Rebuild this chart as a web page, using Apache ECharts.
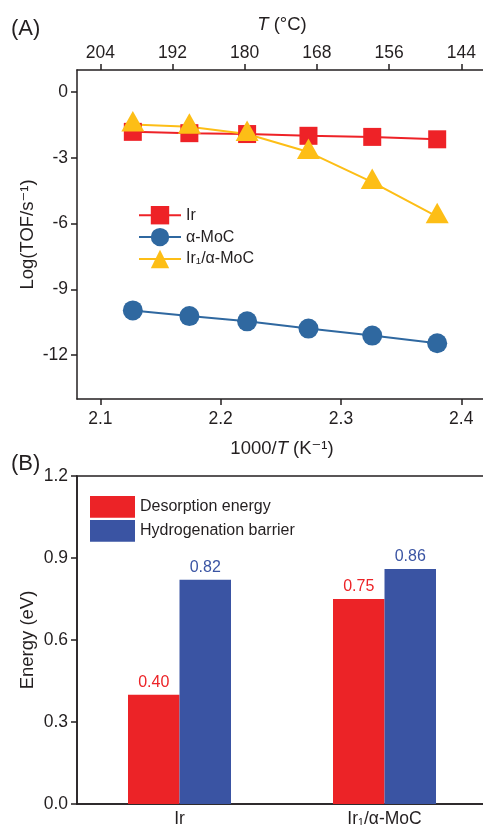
<!DOCTYPE html>
<html>
<head>
<meta charset="utf-8">
<script src="https://cdn.jsdelivr.net/npm/echarts@6/dist/echarts.min.js"></script>
<style>
  html, body { margin: 0; padding: 0; background: #fff; }
  #chart { width: 483px; height: 825px; }
</style>
</head>
<body>
<div id="chart"></div>
<script>
// panel A: Arrhenius data
var invT = [2.127, 2.174, 2.222, 2.273, 2.326, 2.380]
var irTOF = [-1.82, -1.88, -1.92, -2.0, -2.05, -2.16]
var mocTOF = [-9.96, -10.22, -10.46, -10.79, -11.11, -11.46]
var ir1TOF = [-1.49, -1.59, -1.92, -2.74, -4.11, -5.68]
var invTTicks = [2.1, 2.2, 2.3, 2.4]
var tempTicks = [144, 156, 168, 180, 192, 204]
var logTicks = [-12, -9, -6, -3, 0]

// panel B: energies
var catalysts = ['Ir', 'Ir₁/α-MoC']
var desorption = [0.40, 0.75]
var barrier = [0.82, 0.86]

var ink = '#231f20'
var font = 'Liberation Sans, Arial, DejaVu Sans, sans-serif'
var colors = {
  ir: '#ee2227',
  moc: '#2f68a0',
  ir1: '#fdbe16',
  barRed: '#ec2327',
  barBlue: '#3a54a3'
}

function pairs(xs, ys) {
  return xs.map(function (x, i) { return [x, ys[i]] })
}

var axisLine = { show: true, onZero: false, lineStyle: { color: ink, width: 1.5 } }
var tickStyle = { color: ink, width: 1.5 }
var labelStyle = { color: ink, fontSize: 17.5, fontFamily: font }
var nameStyle = {
  color: ink, fontSize: 18.5, fontFamily: font,
  rich: { i: { fontStyle: 'italic', fontSize: 18.5, fontFamily: font, color: ink } }
}

var chart = echarts.init(document.getElementById('chart'))
chart.setOption({
  animation: false,
  textStyle: { fontFamily: font },
  title: [
    { text: '(A)', left: 11, top: 18, padding: 0, textStyle: { fontSize: 22, fontWeight: 'normal', color: ink, fontFamily: font } },
    { text: '(B)', left: 11, top: 453, padding: 0, textStyle: { fontSize: 22, fontWeight: 'normal', color: ink, fontFamily: font } }
  ],
  grid: [
    { left: 77, right: -4, top: 70, bottom: 426, outerBoundsMode: 'none' },
    { left: 77, right: -4, top: 476, bottom: 21, outerBoundsMode: 'none',
      show: true, borderColor: ink, borderWidth: 1.5, backgroundColor: 'transparent' }
  ],
  legend: [
    {
      data: ['Ir', 'α-MoC', 'Ir₁/α-MoC'],
      orient: 'vertical', left: 133, top: 201,
      itemWidth: 42, itemHeight: 23, itemGap: 3.5,
      textStyle: { fontSize: 16, color: ink, fontFamily: font }
    },
    {
      data: ['Desorption energy', 'Hydrogenation barrier'],
      orient: 'vertical', left: 85, top: 491,
      icon: 'rect', itemWidth: 45, itemHeight: 21.7, itemGap: 2.3,
      textStyle: { fontSize: 16, color: ink, fontFamily: font }
    }
  ],
  xAxis: [
    {
      gridIndex: 0, type: 'value', position: 'bottom',
      min: 2.0806, max: 2.4214,
      axisLine: axisLine,
      axisTick: { show: true, length: 6, lineStyle: tickStyle, customValues: invTTicks },
      axisLabel: Object.assign({ margin: 11, customValues: invTTicks, formatter: function (v) { return v.toFixed(1) } }, labelStyle),
      splitLine: { show: false },
      name: '1000/{i|T} (K⁻¹)', nameLocation: 'middle', nameGap: 40, nameMoveOverlap: false, nameTextStyle: nameStyle
    },
    {
      gridIndex: 0, type: 'value', position: 'top', inverse: true,
      min: 139.73, max: 207.87,
      axisLine: axisLine,
      axisTick: { show: true, length: 6, lineStyle: tickStyle, customValues: tempTicks },
      axisLabel: Object.assign({ margin: 8, customValues: tempTicks }, labelStyle),
      splitLine: { show: false },
      name: '{i|T} (°C)', nameLocation: 'middle', nameGap: 36, nameMoveOverlap: false, nameTextStyle: nameStyle
    },
    {
      gridIndex: 1, type: 'category', data: catalysts,
      axisLine: axisLine,
      axisTick: { show: false },
      axisLabel: Object.assign({ margin: 6 }, labelStyle),
      splitLine: { show: false }
    }
  ],
  yAxis: [
    {
      gridIndex: 0, type: 'value', min: -14, max: 1,
      axisLine: axisLine,
      axisTick: { show: true, length: 6, lineStyle: tickStyle, customValues: logTicks },
      axisLabel: Object.assign({ margin: 9, customValues: logTicks }, labelStyle),
      splitLine: { show: false },
      name: 'Log(TOF/s⁻¹)', nameLocation: 'middle', nameGap: 40, nameMoveOverlap: false, nameTextStyle: nameStyle
    },
    {
      gridIndex: 1, type: 'value', min: 0, max: 1.2, interval: 0.3,
      axisLine: axisLine,
      axisTick: { show: true, length: 6, lineStyle: tickStyle },
      axisLabel: Object.assign({ margin: 9, formatter: function (v) { return v.toFixed(1) } }, labelStyle),
      splitLine: { show: false },
      name: 'Energy (eV)', nameLocation: 'middle', nameGap: 40, nameMoveOverlap: false, nameTextStyle: nameStyle
    }
  ],
  series: [
    {
      name: 'Ir', type: 'line', xAxisIndex: 0, yAxisIndex: 0,
      data: pairs(invT, irTOF),
      symbol: 'rect', symbolSize: 18,
      itemStyle: { color: colors.ir },
      lineStyle: { color: colors.ir, width: 2 }
    },
    {
      name: 'α-MoC', type: 'line', xAxisIndex: 0, yAxisIndex: 0,
      data: pairs(invT, mocTOF),
      symbol: 'circle', symbolSize: 20,
      itemStyle: { color: colors.moc },
      lineStyle: { color: colors.moc, width: 2 }
    },
    {
      name: 'Ir₁/α-MoC', type: 'line', xAxisIndex: 0, yAxisIndex: 0,
      data: pairs(invT, ir1TOF),
      symbol: 'triangle', symbolSize: [23, 20.5], symbolOffset: [0, -3.4],
      itemStyle: { color: colors.ir1 },
      lineStyle: { color: colors.ir1, width: 2 }
    },
    {
      name: 'Desorption energy', type: 'bar', xAxisIndex: 2, yAxisIndex: 1,
      data: desorption, barWidth: 51.5, barGap: '0%',
      itemStyle: { color: colors.barRed },
      label: { show: true, position: 'top', distance: 4, fontSize: 16, color: colors.barRed, fontFamily: font,
        formatter: function (p) { return p.value.toFixed(2) } }
    },
    {
      name: 'Hydrogenation barrier', type: 'bar', xAxisIndex: 2, yAxisIndex: 1,
      data: barrier, barWidth: 51.5, barGap: '0%',
      itemStyle: { color: colors.barBlue },
      label: { show: true, position: 'top', distance: 4, fontSize: 16, color: colors.barBlue, fontFamily: font,
        formatter: function (p) { return p.value.toFixed(2) } }
    }
  ]
})
</script>
</body>
</html>
